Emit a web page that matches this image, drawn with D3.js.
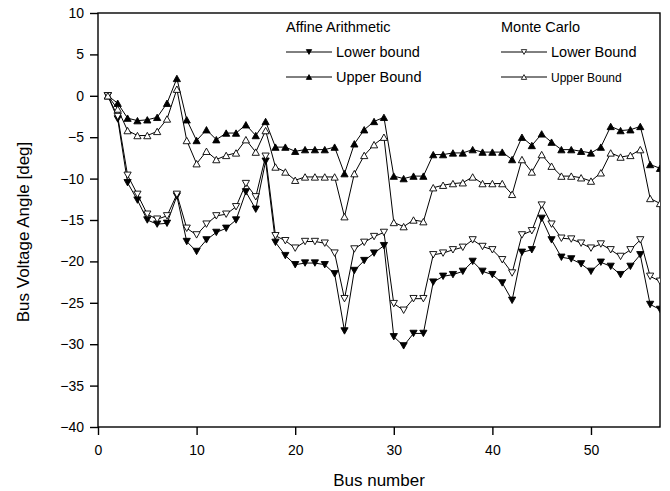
<!DOCTYPE html>
<html lang="en">
<head>
<meta charset="UTF-8">
<title>Bus Voltage Angle</title>
<style>
  body { margin: 0; background: #fff; }
  svg { display: block; font-family: "Liberation Sans", Arial, sans-serif; }
</style>
</head>
<body>
<script src="https://cdn.jsdelivr.net/npm/d3@7"></script>
<script>
const svg_w = 670;
const svg_h = 491;

// bus numbers 1..57
const buses = d3.range(1, 58);

const aa_lower = [0, -2.8, -10.5, -12.6, -15.0, -15.5, -15.4, -12.1, -17.6, -18.8,
  -17.4, -16.5, -16.0, -15.0, -11.6, -13.7, -7.9, -17.7, -19.3, -20.4,
  -20.2, -20.2, -20.4, -21.5, -28.4, -21.1, -19.9, -19.0, -18.1, -29.1,
  -30.2, -28.7, -28.7, -22.5, -21.8, -21.6, -21.2, -20.0, -21.2, -21.6,
  -22.6, -24.7, -18.9, -18.6, -14.8, -17.4, -19.5, -19.7, -20.3, -21.2,
  -20.1, -20.6, -21.6, -20.6, -19.2, -25.2, -25.8];

const aa_upper = [0, -0.9, -2.7, -3.0, -2.9, -2.6, -0.9, 2.1, -2.9, -5.4,
  -4.1, -5.3, -4.5, -4.5, -3.5, -4.8, -3.1, -6.2, -6.2, -6.7,
  -6.5, -6.5, -6.5, -6.2, -9.4, -5.8, -4.1, -3.1, -2.6, -9.7,
  -10.0, -9.7, -9.7, -7.1, -7.1, -6.9, -6.9, -6.5, -6.8, -6.8,
  -6.8, -7.7, -5.0, -6.0, -4.6, -5.6, -6.5, -6.5, -6.7, -6.9,
  -6.2, -3.7, -4.2, -4.1, -3.7, -8.3, -8.75];

const mc_lower = [0, -2.5, -9.6, -11.9, -14.3, -14.9, -14.5, -11.9, -16.0, -16.8,
  -15.5, -14.5, -14.3, -13.4, -10.6, -12.2, -7.3, -16.9, -17.5, -18.4,
  -17.6, -17.6, -17.8, -19.0, -24.5, -18.5, -17.7, -17.0, -16.5, -25.1,
  -25.9, -24.5, -24.5, -19.2, -19.0, -18.6, -18.3, -17.4, -18.2, -18.6,
  -19.8, -21.4, -16.8, -16.3, -13.2, -15.5, -17.2, -17.3, -17.8, -18.4,
  -17.9, -18.6, -19.4, -18.6, -17.4, -21.8, -22.4];

const mc_upper = [0, -1.6, -4.2, -4.8, -4.8, -4.3, -2.8, 0.8, -5.4, -8.2,
  -6.7, -7.7, -7.2, -6.9, -5.3, -6.8, -4.2, -8.6, -9.2, -10.2,
  -9.8, -9.8, -9.8, -9.8, -14.6, -9.4, -7.2, -5.9, -5.0, -15.3,
  -15.8, -15.0, -15.2, -11.1, -10.8, -10.6, -10.5, -9.8, -10.6, -10.6,
  -10.6, -11.9, -7.7, -9.2, -7.1, -8.5, -9.7, -9.7, -9.9, -10.3,
  -9.3, -6.9, -7.4, -7.2, -6.5, -12.4, -13.0];

const x_ticks = [0, 10, 20, 30, 40, 50];
const y_ticks = [10, 5, 0, -5, -10, -15, -20, -25, -30, -35, -40];

const series = [
  { name: 'Lower bound', group: 'Affine Arithmetic', values: aa_lower, down: true, filled: true },
  { name: 'Upper Bound', group: 'Affine Arithmetic', values: aa_upper, down: false, filled: true },
  { name: 'Lower Bound', group: 'Monte Carlo', values: mc_lower, down: true, filled: false },
  { name: 'Upper Bound', group: 'Monte Carlo', values: mc_upper, down: false, filled: false },
];

const m = { left: 98, right: 660, top: 13, bottom: 427 };

const x = d3.scaleLinear().domain([0, 57]).range([m.left, m.right]);
const y = d3.scaleLinear().domain([-40, 10]).range([m.bottom, m.top]);

const svg = d3.select('body')
  .append('svg')
  .attr('width', svg_w)
  .attr('height', svg_h);

svg.append('defs').append('clipPath')
  .attr('id', 'plot_clip')
  .append('rect')
  .attr('x', m.left)
  .attr('y', m.top)
  .attr('width', m.right - m.left)
  .attr('height', m.bottom - m.top);

// triangle path centred on 0,0
const tri = (down, k = 1) => {
  const hw = 3.6 * k, h = 3.2 * k;
  return down
    ? `M${-hw},${-h}L${hw},${-h}L0,${h}Z`
    : `M${-hw},${h}L${hw},${h}L0,${-h}Z`;
};

// axes
const x_axis = d3.axisBottom(x).tickValues(x_ticks).tickSize(8).tickPadding(10);
const y_axis = d3.axisLeft(y).tickValues(y_ticks).tickSize(8).tickPadding(6);

const gx = svg.append('g')
  .attr('transform', `translate(0,${m.bottom})`)
  .call(x_axis);
const gy = svg.append('g')
  .attr('transform', `translate(${m.left},0)`)
  .call(y_axis);

[gx, gy].forEach(g => {
  g.select('.domain').remove();
  g.selectAll('line').attr('stroke', '#000').attr('stroke-width', 1.4);
  g.selectAll('text')
    .attr('fill', '#000')
    .attr('font-size', '14px')
    .attr('font-family', '"Liberation Sans", Arial, sans-serif');
});

// frame
svg.append('rect')
  .attr('x', m.left)
  .attr('y', m.top)
  .attr('width', m.right - m.left)
  .attr('height', m.bottom - m.top)
  .attr('fill', 'none')
  .attr('stroke', '#000')
  .attr('stroke-width', 1.4);

// series
const line = d3.line()
  .x((d, i) => x(buses[i]))
  .y(d => y(d));

const plot = svg.append('g').attr('clip-path', 'url(#plot_clip)');

series.forEach(s => {
  plot.append('path')
    .datum(s.values)
    .attr('d', line)
    .attr('fill', 'none')
    .attr('stroke', '#000')
    .attr('stroke-width', 1);
});

series.forEach(s => {
  plot.selectAll(null)
    .data(s.values)
    .enter()
    .append('path')
    .attr('transform', (d, i) => `translate(${x(buses[i])},${y(d)})`)
    .attr('d', tri(s.down))
    .attr('fill', s.filled ? '#000' : '#fff')
    .attr('stroke', '#000')
    .attr('stroke-width', 0.9);
});

// axis titles
svg.append('text')
  .attr('x', (m.left + m.right) / 2)
  .attr('y', 486)
  .attr('text-anchor', 'middle')
  .attr('font-size', '17px')
  .text('Bus number');

svg.append('text')
  .attr('transform', `translate(29,232) rotate(-90)`)
  .attr('text-anchor', 'middle')
  .attr('font-size', '17px')
  .text('Bus Voltage Angle [deg]');

// legend
const legend_cols = [
  { title: 'Affine Arithmetic', x0: 286, items: [series[0], series[1]] },
  { title: 'Monte Carlo', x0: 501, items: [series[2], series[3]] },
];

legend_cols.forEach(col => {
  const g = svg.append('g').attr('font-size', '14.5px');
  g.append('text')
    .attr('x', col.x0)
    .attr('y', 32)
    .text(col.title);
  col.items.forEach((s, k) => {
    const yy = 52 + k * 25;
    g.append('line')
      .attr('x1', col.x0).attr('x2', col.x0 + 46)
      .attr('y1', yy).attr('y2', yy)
      .attr('stroke', '#000').attr('stroke-width', 1);
    g.append('path')
      .attr('transform', `translate(${col.x0 + 23},${yy})`)
      .attr('d', tri(s.down, 0.75))
      .attr('fill', s.filled ? '#000' : '#fff')
      .attr('stroke', '#000')
      .attr('stroke-width', 0.8);
    g.append('text')
      .attr('x', col.x0 + 50)
      .attr('y', yy + 5.3)
      .attr('font-size', (!s.filled && !s.down) ? '12px' : '14.5px')
      .text(s.name);
  });
});
</script>
</body>
</html>
